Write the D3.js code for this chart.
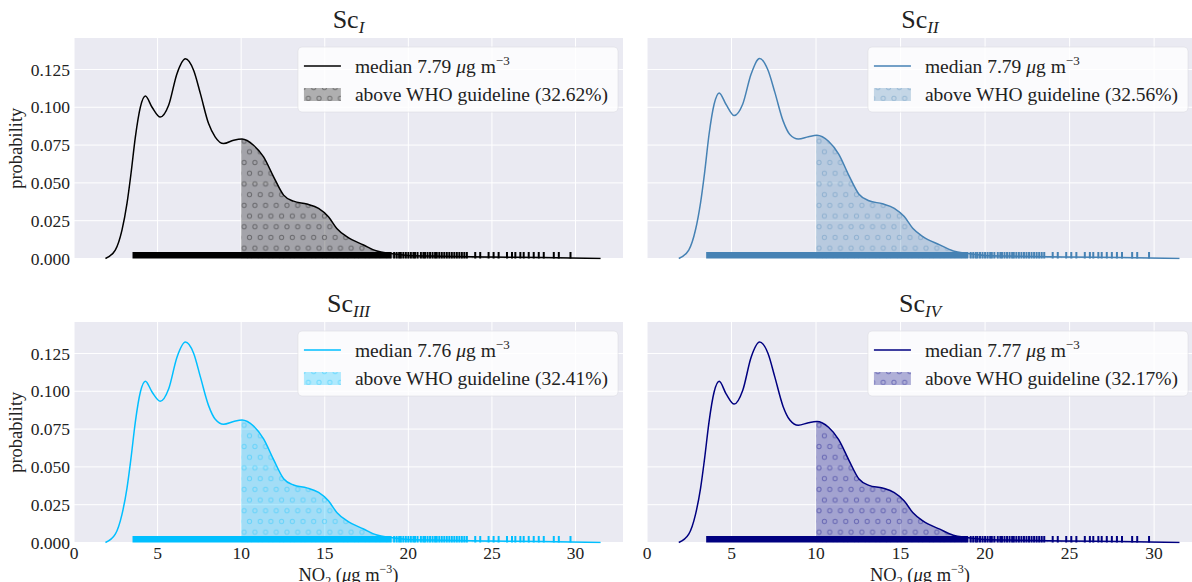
<!DOCTYPE html>
<html>
<head>
<meta charset="utf-8">
<script src="https://cdn.jsdelivr.net/npm/d3@7"></script>
<style>
  body { margin: 0; background: #fff; }
  text { font-family: "Liberation Serif", "DejaVu Serif", serif; fill: #222; }
</style>
</head>
<body>
<script>
const xs = [1.88, 2.47, 2.87, 3.17, 3.41, 3.67, 3.97, 4.27, 4.67, 5.16, 5.66, 6.16, 6.66, 7.16, 7.56, 8.05, 8.45, 8.95, 9.55, 10.05, 10.74, 11.34, 11.94, 12.54, 13.13, 13.93, 14.63, 15.22, 15.72, 16.32, 17.32, 18.12, 18.91, 20, 22, 25, 28, 31.5]

// density of each scenario at xs
const densI = [0, 0.0056, 0.0188, 0.0364, 0.0562, 0.0803, 0.1001, 0.1074, 0.1, 0.0935, 0.1013, 0.1222, 0.132, 0.1243, 0.109, 0.0892, 0.0803, 0.076, 0.0782, 0.079, 0.0749, 0.0672, 0.054, 0.0419, 0.0379, 0.036, 0.0331, 0.0276, 0.0199, 0.0144, 0.0089, 0.0049, 0.0034, 0.002, 0.0015, 0.001, 0.0006, 0]
const densII = [0, 0.0056, 0.019, 0.037, 0.057, 0.082, 0.102, 0.1095, 0.102, 0.0945, 0.102, 0.122, 0.1322, 0.1245, 0.11, 0.091, 0.082, 0.079, 0.0805, 0.0815, 0.0775, 0.069, 0.055, 0.0425, 0.0382, 0.0362, 0.0332, 0.0277, 0.02, 0.0145, 0.009, 0.005, 0.0034, 0.002, 0.0015, 0.001, 0.0006, 0]
const densIII = [0, 0.0055, 0.0186, 0.036, 0.0558, 0.0798, 0.0995, 0.1066, 0.0995, 0.0934, 0.1015, 0.1225, 0.1325, 0.125, 0.1095, 0.0905, 0.0815, 0.0782, 0.08, 0.081, 0.077, 0.0685, 0.0548, 0.0422, 0.038, 0.0361, 0.0331, 0.0276, 0.0199, 0.0144, 0.0089, 0.0049, 0.0034, 0.002, 0.0015, 0.001, 0.0006, 0]
const densIV = [0, 0.0055, 0.0186, 0.036, 0.0558, 0.0798, 0.0995, 0.1066, 0.0985, 0.0915, 0.1005, 0.1225, 0.1325, 0.125, 0.1095, 0.09, 0.081, 0.0775, 0.0792, 0.08, 0.0762, 0.068, 0.0545, 0.042, 0.0378, 0.036, 0.033, 0.0275, 0.0198, 0.0143, 0.0088, 0.0048, 0.0033, 0.002, 0.0015, 0.001, 0.0006, 0]

// rug: solid band of observations, then the single sparse ones
const rugBand = [3.5, 19.0]
const rugTail = [19.15, 19.3, 19.45, 19.55, 19.7, 19.85, 20.0, 20.15, 20.3, 20.4, 20.55, 20.75, 20.9, 21.0, 21.15, 21.3, 21.45, 21.6, 21.7, 21.85, 22.0, 22.15, 22.3, 22.45, 22.6, 22.75, 22.9, 23.05, 23.2, 23.35, 23.5, 24.0, 24.3, 24.8, 25.1, 25.4, 25.9, 26.2, 26.4, 26.7, 26.9, 27.2, 27.5, 27.8, 28.1, 28.7, 29.0, 29.7]

const scenarios = ["I", "II", "III", "IV"]
const colors = ["#000000", "#4682b4", "#00bfff", "#000080"]
const medians = ["7.79", "7.79", "7.76", "7.77"]
const abovePct = ["32.62", "32.56", "32.41", "32.17"]
const densities = [densI, densII, densIII, densIV]
const whoLimit = 10

const xTicks = [0, 5, 10, 15, 20, 25, 30]
const yTicks = [0, 0.025, 0.05, 0.075, 0.1, 0.125]

// panel boxes (layout only)
const boxes = [
	{ x0: 74, x1: 623, y0: 38, y1: 258.5, xmax: 32.84, left: true, bottom: false },
	{ x0: 647, x1: 1193, y0: 38, y1: 258.5, xmax: 32.3, left: false, bottom: false },
	{ x0: 74, x1: 623, y0: 322, y1: 542.5, xmax: 32.84, left: true, bottom: true },
	{ x0: 647, x1: 1193, y0: 322, y1: 542.5, xmax: 32.3, left: false, bottom: true },
]

const svg = d3.select("body").append("svg").attr("width", 1192).attr("height", 582)
const defs = svg.append("defs")

boxes.forEach((b, i) => {
	const color = colors[i]
	const x = d3.scaleLinear().domain([0, b.xmax]).range([b.x0, b.x1])
	const y = d3.scaleLinear().domain([0, 0.1458]).range([b.y1, b.y0])
	const pts = xs.map((v, k) => [v, densities[i][k]])

	// hatch pattern of small rings, alternate rows shifted
	const pat = defs.append("pattern")
		.attr("id", "hatch" + i)
		.attr("patternUnits", "userSpaceOnUse")
		.attr("width", 10.7).attr("height", 21.4)
		.attr("x", x(whoLimit) + 3)
		.attr("y", b.y1 - 5)
	;[[5.35, 5.35], [0, 16.05], [10.7, 16.05]].forEach(c => {
		pat.append("circle").attr("cx", c[0]).attr("cy", c[1]).attr("r", 2.1)
			.attr("fill", "none").attr("stroke", color).attr("stroke-opacity", 0.35).attr("stroke-width", 1)
	})

	defs.append("clipPath").attr("id", "plot" + i)
		.append("rect").attr("x", b.x0).attr("y", b.y0).attr("width", b.x1 - b.x0).attr("height", b.y1 - b.y0 + 1)
	defs.append("clipPath").attr("id", "above" + i)
		.append("rect").attr("x", x(whoLimit)).attr("y", b.y0).attr("width", b.x1 - x(whoLimit)).attr("height", b.y1 - b.y0)

	const g = svg.append("g")

	g.append("rect").attr("x", b.x0).attr("y", b.y0)
		.attr("width", b.x1 - b.x0).attr("height", b.y1 - b.y0).attr("fill", "#eaeaf2")

	// grid
	g.selectAll("line.gx").data(xTicks).enter().append("line")
		.attr("x1", d => x(d)).attr("x2", d => x(d)).attr("y1", b.y0).attr("y2", b.y1)
		.attr("stroke", "#fff").attr("stroke-width", 1)
	g.selectAll("line.gy").data(yTicks).enter().append("line")
		.attr("y1", d => y(d)).attr("y2", d => y(d)).attr("x1", b.x0).attr("x2", b.x1)
		.attr("stroke", "#fff").attr("stroke-width", 1)

	const plot = g.append("g").attr("clip-path", `url(#plot${i})`)

	const area = d3.area().x(d => x(d[0])).y0(y(0)).y1(d => y(d[1])).curve(d3.curveMonotoneX)
	const line = d3.line().x(d => x(d[0])).y(d => y(d[1])).curve(d3.curveMonotoneX)

	const above = plot.append("g").attr("clip-path", `url(#above${i})`)
	above.append("path").attr("d", area(pts)).attr("fill", color).attr("fill-opacity", 0.3)
	above.append("path").attr("d", area(pts)).attr("fill", `url(#hatch${i})`)

	plot.append("path").attr("d", line(pts)).attr("fill", "none")
		.attr("stroke", color).attr("stroke-width", 1.5)

	// rug
	const rugH = 6.5
	plot.append("rect")
		.attr("x", x(rugBand[0])).attr("y", y(0) - rugH)
		.attr("width", x(rugBand[1]) - x(rugBand[0])).attr("height", rugH)
		.attr("fill", color)
	plot.selectAll("line.rug").data(rugTail).enter().append("line")
		.attr("x1", d => x(d)).attr("x2", d => x(d))
		.attr("y1", y(0)).attr("y2", y(0) - rugH)
		.attr("stroke", color).attr("stroke-width", 2)

	// title
	const title = g.append("text")
		.attr("x", (b.x0 + b.x1) / 2).attr("y", b.y0 - 10)
		.attr("text-anchor", "middle").attr("font-size", 26)
	title.append("tspan").text("Sc")
	title.append("tspan").attr("font-style", "italic").attr("font-size", 17).attr("dy", 5).text(scenarios[i])

	// legend
	const lg = g.append("g")
	const lbox = lg.append("rect").attr("fill", "#fff").attr("fill-opacity", 0.8)
		.attr("stroke", "#dcdce2").attr("stroke-opacity", 0.6).attr("rx", 4)
	const t1 = lg.append("text").attr("font-size", 19.5).attr("y", b.y0 + 35)
	t1.append("tspan").text("median " + medians[i] + " ")
	t1.append("tspan").attr("font-style", "italic").text("μ")
	t1.append("tspan").text("g m")
	t1.append("tspan").attr("font-size", 13).attr("dy", -8).text("−3")
	const t2 = lg.append("text").attr("font-size", 19.5).attr("y", b.y0 + 63)
		.text(`above WHO guideline (${abovePct[i]}%)`)
	const tw = Math.max(t1.node().getComputedTextLength(), t2.node().getComputedTextLength())
	const lw = 6 + 37 + 14 + tw + 10
	const lx = b.x1 - 5 - lw
	lbox.attr("x", lx).attr("y", b.y0 + 9).attr("width", lw).attr("height", 65)
	t1.attr("x", lx + 57)
	t2.attr("x", lx + 57)
	lg.append("line").attr("x1", lx + 6).attr("x2", lx + 43)
		.attr("y1", b.y0 + 28).attr("y2", b.y0 + 28).attr("stroke", color).attr("stroke-width", 1.5)
	lg.append("rect").attr("x", lx + 6).attr("y", b.y0 + 50).attr("width", 37).attr("height", 13)
		.attr("fill", color).attr("fill-opacity", 0.3)
	lg.append("rect").attr("x", lx + 6).attr("y", b.y0 + 50).attr("width", 37).attr("height", 13)
		.attr("fill", `url(#hatch${i})`)

	if (b.left) {
		g.selectAll("text.yt").data(yTicks).enter().append("text")
			.attr("x", b.x0 - 4).attr("y", d => y(d)).attr("dy", "0.35em")
			.attr("text-anchor", "end").attr("font-size", 17.5)
			.text(d => d3.format(".3f")(d))
		g.append("text")
			.attr("transform", `translate(22, ${(b.y0 + b.y1) / 2}) rotate(-90)`)
			.attr("text-anchor", "middle").attr("font-size", 18.5).text("probability")
	}
	if (b.bottom) {
		g.selectAll("text.xt").data(xTicks).enter().append("text")
			.attr("x", d => x(d)).attr("y", b.y1 + 10).attr("dy", "0.35em")
			.attr("text-anchor", "middle").attr("font-size", 17.5)
			.text(d => d)
		const xl = g.append("text")
			.attr("x", (b.x0 + b.x1) / 2).attr("y", b.y1 + 38)
			.attr("text-anchor", "middle").attr("font-size", 18.5)
		xl.append("tspan").text("NO")
		xl.append("tspan").attr("font-size", 12).attr("dy", 4).text("2")
		xl.append("tspan").attr("dy", -4).text(" (")
		xl.append("tspan").attr("font-style", "italic").text("μ")
		xl.append("tspan").text("g m")
		xl.append("tspan").attr("font-size", 12).attr("dy", -8).text("−3")
		xl.append("tspan").attr("dy", 8).text(")")
	}
})
</script>
</body>
</html>
